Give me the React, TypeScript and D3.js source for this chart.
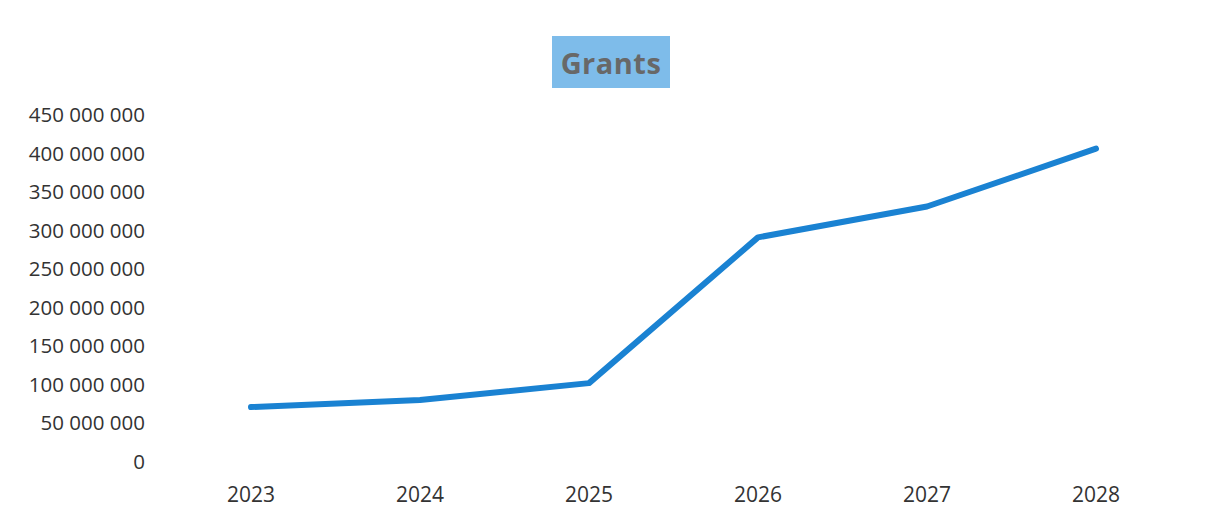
import React from "react";
import * as d3 from "d3";

const years = ["2023", "2024", "2025", "2026", "2027", "2028"];
const grants = [70000000, 79000000, 101000000, 290000000, 330000000, 405000000];
const yTicks = [0, 50000000, 100000000, 150000000, 200000000, 250000000, 300000000, 350000000, 400000000, 450000000];
const title = "Grants";

const W = 1210;
const H = 511;

const fmt = (v: number) => (v === 0 ? "0" : d3.format(",")(v).replace(/,/g, " "));

export default function App() {
  const x = d3.scalePoint<string>().domain(years).range([251, 1096]);
  const y = d3.scaleLinear().domain([0, 450000000]).range([461, 114]);
  const line = d3
    .line<number>()
    .x((_, i) => x(years[i]) as number)
    .y((d) => y(d));
  const font = "'Open Sans', 'Noto Sans', sans-serif";
  return (
    <svg
      width={W}
      height={H}
      style={{ position: "absolute", left: 0, top: 0, background: "#fff" }}
    >
      <rect x={552} y={36} width={118} height={52} fill="#7ebcea" />
      <text
        x={611}
        y={62}
        textAnchor="middle"
        dominantBaseline="central"
        fontFamily={font}
        fontWeight={700}
        fontSize={29}
        fill="#686868"
        letterSpacing={0.5}
      >
        {title}
      </text>
      {yTicks.map((t) => (
        <text
          key={t}
          x={145}
          y={y(t)}
          textAnchor="end"
          dominantBaseline="central"
          fontFamily={font}
          fontSize={20.5}
          fill="#333"
        >
          {fmt(t)}
        </text>
      ))}
      {years.map((yr) => (
        <text
          key={yr}
          x={x(yr) as number}
          y={494}
          textAnchor="middle"
          dominantBaseline="central"
          fontFamily={font}
          fontSize={21}
          fill="#333"
        >
          {yr}
        </text>
      ))}
      <path
        d={line(grants) || ""}
        fill="none"
        stroke="#1a82d2"
        strokeWidth={6}
        strokeLinecap="round"
        strokeLinejoin="round"
      />
    </svg>
  );
}
